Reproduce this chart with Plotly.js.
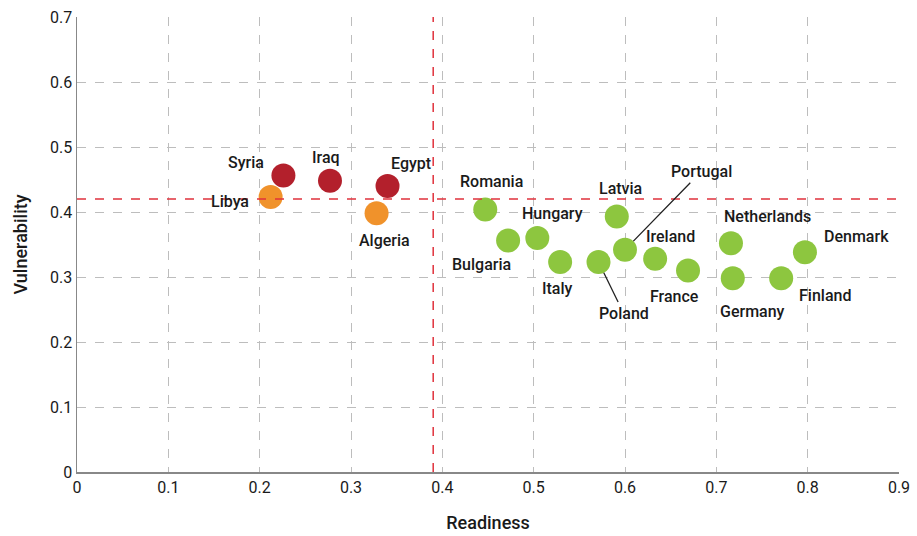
<!DOCTYPE html>
<html><head><meta charset="utf-8">
<script src="https://cdn.plot.ly/plotly-3.0.1.min.js"></script>
<style>html,body{margin:0;padding:0;background:#fff}#chart{width:917px;height:536px}</style>
</head><body><div id="chart"></div>
<script>
const countries = ["Syria","Libya","Iraq","Egypt","Algeria","Romania","Bulgaria","Hungary","Italy","Poland","Latvia","Portugal","Ireland","France","Netherlands","Germany","Finland","Denmark"];
const readiness = [0.226,0.212,0.277,0.340,0.328,0.447,0.472,0.504,0.529,0.571,0.591,0.600,0.633,0.669,0.716,0.718,0.771,0.797];
const vulnerability = [0.456,0.423,0.448,0.440,0.398,0.404,0.356,0.360,0.323,0.323,0.393,0.342,0.328,0.310,0.352,0.298,0.298,0.338];
const groups = ["red","orange","red","red","orange","green","green","green","green","green","green","green","green","green","green","green","green","green"];
const readinessThreshold = 0.39;
const vulnerabilityThreshold = 0.42;
const xTicks = [0,0.1,0.2,0.3,0.4,0.5,0.6,0.7,0.8,0.9];
const yTicks = [0,0.1,0.2,0.3,0.4,0.5,0.6,0.7];

const colorMap = {red:"#B3202C", orange:"#F0922B", green:"#8DC63F"};
const labelOffsets = {
  Syria:[-37,-13], Libya:[-41,4], Iraq:[-4,-23], Egypt:[23,-23], Algeria:[8,27],
  Romania:[6,-28], Bulgaria:[-27,24], Hungary:[15,-25], Italy:[-3,26], Poland:[25,51],
  Latvia:[4,-28], Portugal:[76,-78], Ireland:[15,-22], France:[-14,26], Netherlands:[37,-27],
  Germany:[20,33], Finland:[44,17], Denmark:[52,-16]
};
const leaderLines = {Poland:true, Portugal:true};
const FONT = "Roboto, sans-serif";

const trace = {
  x: readiness, y: vulnerability, mode: "markers", type: "scatter",
  marker: {size: 24, color: groups.map(g => colorMap[g]), line:{width:0}},
  hoverinfo: "text", text: countries
};

const annotations = countries.map((c,i) => ({
  x: readiness[i], y: vulnerability[i], xref:"x", yref:"y",
  text: c, showarrow: true,
  ax: labelOffsets[c][0], ay: labelOffsets[c][1],
  arrowhead: 0, arrowwidth: leaderLines[c] ? 1.3 : 0.1,
  arrowcolor: leaderLines[c] ? "#222" : "rgba(0,0,0,0)",
  standoff: leaderLines[c] ? 12 : 0,
  font: {family: FONT, size: 16, color: "#1a1a1a", weight: 500}
}));

const layout = {
  width: 917, height: 536,
  margin: {l: 77, r: 18, t: 17, b: 64},
  paper_bgcolor: "#fff", plot_bgcolor: "#fff",
  showlegend: false,
  font: {family: FONT, size: 16, color: "#1a1a1a"},
  xaxis: {
    range: [0, 0.9], tickvals: xTicks, ticktext: xTicks.map(String),
    showgrid: true, gridcolor: "#bdbdbd", griddash: "dash", gridwidth: 1,
    zeroline: false, showline: true, linecolor: "#888", linewidth: 1.5,
    ticks: "", ticklen: 0, tickfont: {size: 16},
    title: {text: "Readiness", font: {size: 18, weight: 500}, standoff: 20}
  },
  yaxis: {
    range: [0, 0.7], tickvals: yTicks, ticktext: yTicks.map(String),
    showgrid: true, gridcolor: "#bdbdbd", griddash: "dash", gridwidth: 1,
    zeroline: false, showline: true, linecolor: "#888", linewidth: 1.5,
    ticks: "", ticklen: 0, tickfont: {size: 16},
    title: {text: "Vulnerability", font: {size: 18, weight: 500}, standoff: 18}
  },
  shapes: [
    {type:"line", xref:"x", yref:"paper", x0: readinessThreshold, x1: readinessThreshold, y0: 0, y1: 1,
     line:{color:"#E0323C", width:1.5, dash:"dash"}},
    {type:"line", xref:"paper", yref:"y", x0: 0, x1: 1, y0: vulnerabilityThreshold, y1: vulnerabilityThreshold,
     line:{color:"#E0323C", width:1.5, dash:"dash"}}
  ],
  annotations: annotations
};

Plotly.newPlot("chart", [trace], layout, {staticPlot: true, displayModeBar: false});
</script></body></html>
